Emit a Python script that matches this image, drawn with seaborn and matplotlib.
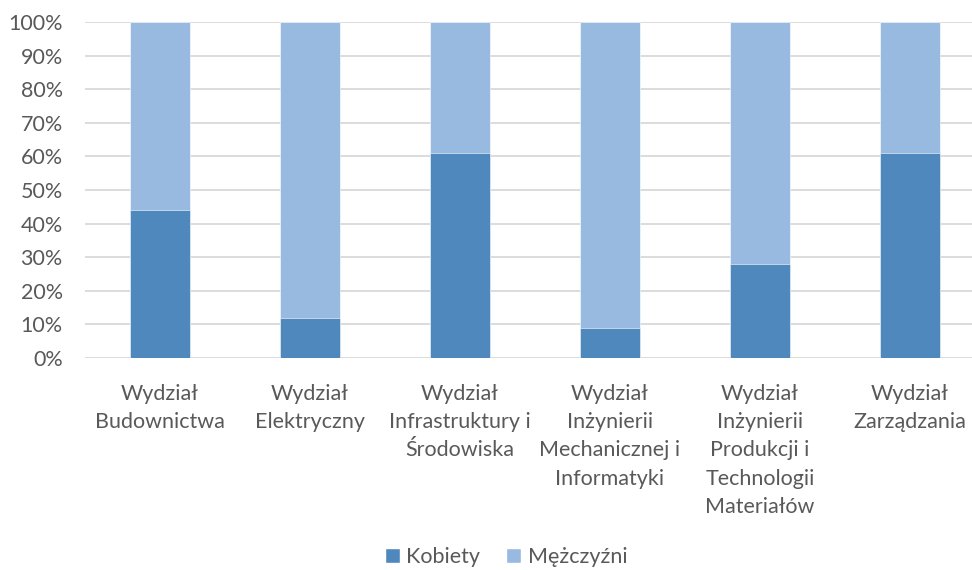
import matplotlib
matplotlib.use("Agg")
import matplotlib.pyplot as plt
import seaborn as sns
import numpy as np
import pandas as pd
from matplotlib.ticker import PercentFormatter
from matplotlib.patches import Patch

categories = [
    "Wydział\nBudownictwa",
    "Wydział\nElektryczny",
    "Wydział\nInfrastruktury i\nŚrodowiska",
    "Wydział\nInżynierii\nMechanicznej i\nInformatyki",
    "Wydział\nInżynierii\nProdukcji i\nTechnologii\nMateriałów",
    "Wydział\nZarządzania",
]
kobiety = [44, 12, 61, 9, 28, 61]
mezczyzni = [56, 88, 39, 91, 72, 39]

color_k = "#4F88BD"
color_m = "#98B9E0"
text_color = "#595959"
fs = 15.5

sns.set_theme(style="white")
plt.rcParams["font.family"] = ["Lato", "DejaVu Sans"]

df = pd.DataFrame({
    "wydzial": categories,
    "Kobiety": kobiety,
    "Mężczyźni": mezczyzni,
})
df["suma"] = df["Kobiety"] + df["Mężczyźni"]

fig = plt.figure(figsize=(9.72, 5.70), dpi=100)
ax = fig.add_axes([85 / 972, 1 - 358 / 570, 900 / 972, 336 / 570])

sns.barplot(data=df, x="wydzial", y="suma", color=color_m, width=0.4,
            saturation=1, ax=ax, edgecolor="#ffffff", linewidth=0.4, zorder=3)
sns.barplot(data=df, x="wydzial", y="Kobiety", color=color_k, width=0.4,
            saturation=1, ax=ax, edgecolor="#ffffff", linewidth=0.4, zorder=4)

ax.set_ylim(0, 100)
ax.set_xlim(-0.5, len(categories) - 0.5)
ax.set_yticks(np.arange(0, 101, 10))
ax.yaxis.set_major_formatter(PercentFormatter(decimals=0))
ax.grid(axis="y", color="#D9D9D9", linewidth=1.3, zorder=0)
ax.set_axisbelow(True)
for s in ax.spines.values():
    s.set_visible(False)
ax.set_xlabel("")
ax.set_ylabel("")
ax.tick_params(axis="y", length=0, pad=16, labelsize=fs, labelcolor=text_color)
ax.tick_params(axis="x", length=0, pad=18.5, labelsize=fs, labelcolor=text_color)
for lbl in ax.get_xticklabels():
    lbl.set_linespacing(1.52)

handles = [Patch(facecolor=color_k, label="Kobiety"),
           Patch(facecolor=color_m, label="Mężczyźni")]
fig.legend(handles=handles, loc="center", bbox_to_anchor=(506 / 972, 1 - 557 / 570),
           ncol=2, frameon=False, fontsize=fs, labelcolor=text_color,
           handlelength=0.7, handleheight=0.7, handletextpad=0.3, columnspacing=1.2)

fig.savefig("out.png", dpi=100)
